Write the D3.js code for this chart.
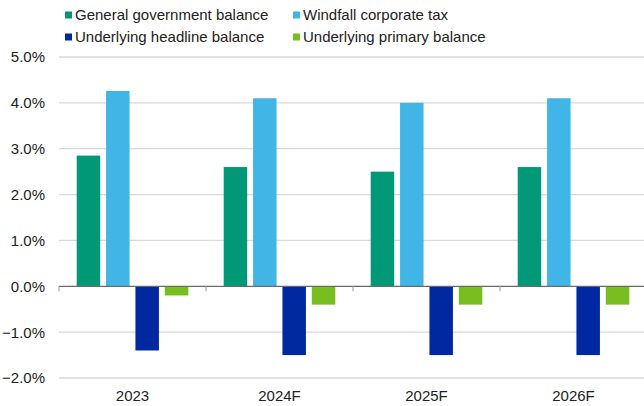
<!DOCTYPE html>
<html><head><meta charset="utf-8">
<script src="https://cdn.jsdelivr.net/npm/d3@7"></script>
<style>body{margin:0;background:#fff;}svg{display:block;font-family:"Liberation Sans",Arial,sans-serif;}</style>
</head><body>
<svg id="c" width="644" height="406"></svg>
<script>
const categories = ["2023", "2024F", "2025F", "2026F"];
const seriesNames = ["General government balance", "Windfall corporate tax", "Underlying headline balance", "Underlying primary balance"];
const generalGovBalance = [2.85, 2.6, 2.5, 2.6];
const windfallTax = [4.26, 4.1, 4.0, 4.1];
const underlyingHeadline = [-1.4, -1.5, -1.5, -1.5];
const underlyingPrimary = [-0.2, -0.4, -0.4, -0.4];
const yTicks = [-2, -1, 0, 1, 2, 3, 4, 5];
const colors = ["#009877", "#41b6e6", "#0028a0", "#78be20"];

const seriesValues = [generalGovBalance, windfallTax, underlyingHeadline, underlyingPrimary];
const svg = d3.select("#c");
const mLeft = 59, mRight = 647, mTop = 57, mBottom = 378;

const x0 = d3.scaleBand().domain(categories).range([mLeft, mRight]).paddingInner(0).paddingOuter(0);
const x1 = d3.scaleBand().domain(d3.range(4)).range([17.7, x0.bandwidth() - 17.7]).paddingInner(0.2).paddingOuter(0);
const y = d3.scaleLinear().domain([-2, 5]).range([mBottom, mTop]);

// gridlines
svg.append("g").selectAll("line").data(yTicks.filter(t => t !== 0)).join("line")
  .attr("x1", mLeft).attr("x2", 644).attr("y1", d => y(d)).attr("y2", d => y(d))
  .attr("stroke", "#d9d9d9").attr("stroke-width", 1.3);

// y labels
svg.append("g").selectAll("text").data(yTicks).join("text")
  .attr("x", 45).attr("y", d => y(d)).attr("dy", "0.36em").attr("text-anchor", "end")
  .attr("font-size", 15).attr("fill", "#222")
  .text(d => d3.format(".1f")(d) + "%");

// bars
const g = svg.append("g");
categories.forEach((c, ci) => {
  seriesValues.forEach((vals, si) => {
    const v = vals[ci];
    g.append("rect")
      .attr("x", x0(c) + x1(si))
      .attr("width", x1.bandwidth())
      .attr("y", y(Math.max(0, v)))
      .attr("height", Math.abs(y(v) - y(0)))
      .attr("fill", colors[si]);
  });
});

// zero line and ticks
svg.append("line").attr("x1", mLeft).attr("x2", 644).attr("y1", y(0)).attr("y2", y(0))
  .attr("stroke", "#6b6b6b").attr("stroke-width", 1.3);
svg.append("g").selectAll("line").data(categories).join("line")
  .attr("x1", d => x0(d)).attr("x2", d => x0(d)).attr("y1", y(0)).attr("y2", y(0) + 5)
  .attr("stroke", "#9a9a9a").attr("stroke-width", 1);

// x labels
svg.append("g").selectAll("text").data(categories).join("text")
  .attr("x", d => x0(d) + x0.bandwidth() / 2).attr("y", 396).attr("dy", "0.36em")
  .attr("text-anchor", "middle").attr("font-size", 15).attr("fill", "#222").text(d => d);

// legend
const legPos = [[65, 15], [293, 15], [65, 37], [293, 37]];
const leg = svg.append("g");
seriesNames.forEach((n, i) => {
  const [lx, ly] = legPos[i];
  leg.append("rect").attr("x", lx).attr("y", ly - 3.5).attr("width", 7).attr("height", 7).attr("fill", colors[i]);
  leg.append("text").attr("x", lx + 10).attr("y", ly).attr("dy", "0.36em")
    .attr("font-size", 15).attr("fill", "#222").text(n);
});
</script>
</body></html>
